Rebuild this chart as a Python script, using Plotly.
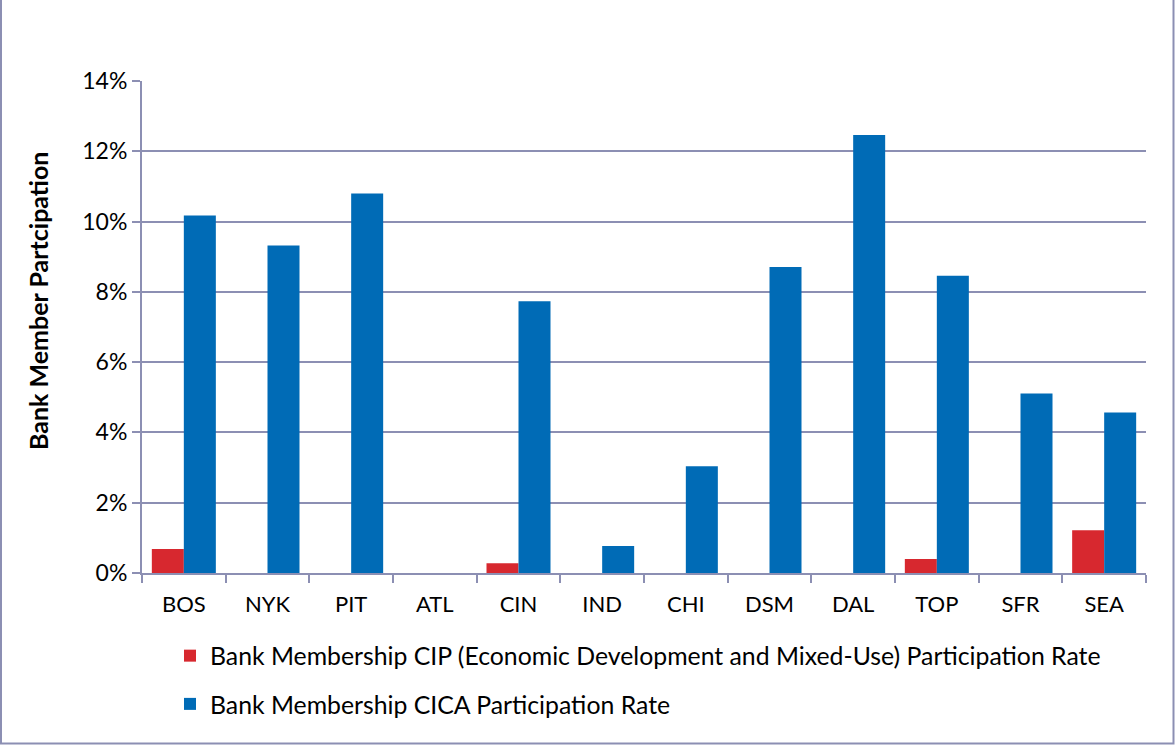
import plotly.graph_objects as go

categories = ["BOS", "NYK", "PIT", "ATL", "CIN", "IND", "CHI", "DSM", "DAL", "TOP", "SFR", "SEA"]
cip_rate = [0.0068, 0.0, 0.0, 0.0, 0.0028, 0.0, 0.0, 0.0, 0.0, 0.0040, 0.0, 0.0122]
cica_rate = [0.1017, 0.0932, 0.1080, 0.0, 0.0773, 0.0077, 0.0304, 0.0871, 0.1246, 0.0846, 0.0511, 0.0457]
y_ticks = [0, 0.02, 0.04, 0.06, 0.08, 0.10, 0.12, 0.14]
y_tick_labels = ["0%", "2%", "4%", "6%", "8%", "10%", "12%", "14%"]

FONT = "Lato"
GRID = "#8c8fb3"
W, H = 1175, 745
ML, MR, MT, MB = 142, 29, 81, 172
PW, PH = W - ML - MR, H - MT - MB

fig = go.Figure()
fig.add_trace(go.Bar(
    x=categories, y=cip_rate,
    name="Bank Membership CIP (Economic Development and Mixed-Use) Participation Rate",
    marker=dict(color="#d7282f", line=dict(width=0)),
    legendgroup="a",
))
fig.add_trace(go.Bar(
    x=categories, y=cica_rate,
    name="Bank Membership CICA Participation Rate",
    marker=dict(color="#006bb6", line=dict(width=0)),
    legendgroup="b",
))

fig.update_layout(
    width=W, height=H,
    margin=dict(l=ML, r=MR, t=MT, b=MB, autoexpand=False),
    paper_bgcolor="white", plot_bgcolor="white",
    barmode="group", bargap=0.235, bargroupgap=0,
    font=dict(family=FONT, size=22, color="black"),
    showlegend=True,
    legend=dict(
        orientation="v", x=(170 - ML) / PW, xanchor="left",
        y=-0.122, yanchor="top",
        font=dict(family=FONT, size=24.8, color="black"),
        tracegroupgap=13, itemwidth=30,
        bgcolor="rgba(0,0,0,0)",
    ),
    xaxis=dict(
        type="category", showgrid=False,
        showline=True, linecolor=GRID, linewidth=2,
        ticks="outside", tickson="boundaries", ticklen=8, tickwidth=2, tickcolor=GRID,
        tickfont=dict(family=FONT, size=22, color="black"),
        ticklabelstandoff=11,
    ),
    yaxis=dict(
        range=[0, 0.14], tickvals=y_ticks, ticktext=y_tick_labels,
        showgrid=True, gridcolor=GRID, gridwidth=2,
        showline=True, linecolor=GRID, linewidth=2,
        ticks="outside", ticklen=8, tickwidth=2, tickcolor=GRID,
        tickfont=dict(family=FONT, size=23, color="black"),
        zeroline=False,
    ),
    shapes=[dict(
        type="rect", xref="paper", yref="paper",
        x0=(1 - ML) / PW, x1=(W - 1.5 - ML) / PW,
        y0=-(H - 1.5 - MT - PH) / PH, y1=(H - 1 - MT) / PH,
        line=dict(color=GRID, width=2), fillcolor="rgba(0,0,0,0)", layer="below",
    )],
    annotations=[dict(
        text="<b>Bank Member Partcipation</b>", textangle=-90,
        xref="paper", yref="paper",
        x=(38 - ML) / PW, y=(MT + PH - 301) / PH,
        xanchor="center", yanchor="middle", showarrow=False,
        font=dict(family=FONT, size=25, color="black"),
    )],
)

fig.write_html(
    "out.html",
    config={"displayModeBar": False},
    post_script="document.body.style.margin='0';document.body.style.padding='0';",
)
